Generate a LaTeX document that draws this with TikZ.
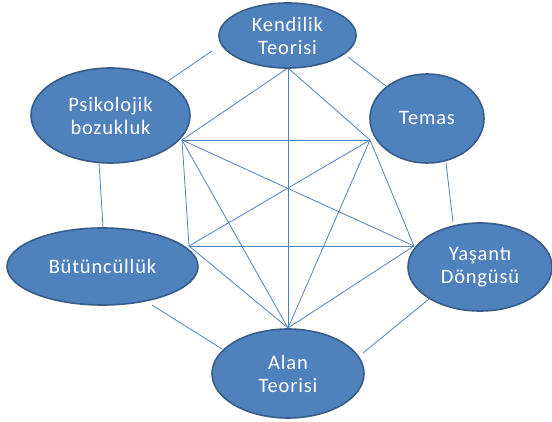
\documentclass[tikz,border=0pt]{standalone}
\usepackage{fontspec}
\setmainfont{Carlito}[LetterSpace=4]
\usetikzlibrary{shapes.geometric}
\definecolor{ovalblue}{HTML}{4F81BD}
\definecolor{ovaledge}{HTML}{385D8A}
\begin{document}
\begin{tikzpicture}[x=1pt,y=-1pt,
  oval/.style={ellipse,draw=ovaledge,line width=1.6pt,fill=ovalblue,text=white,align=center,inner sep=0pt,font=\fontsize{20.5}{23}\selectfont},
  link/.style={draw=ovalblue,line width=0.8pt}]
\useasboundingbox (0,0) rectangle (552,422);
% corners of the inner figure
\coordinate (vk) at (288,68);
\coordinate (vp) at (182,140);
\coordinate (vt) at (370,140);
\coordinate (vb) at (189,246);
\coordinate (vy) at (414,246);
\coordinate (va) at (288,328);
% ends of the outer links
\coordinate (kp1) at (212,51);
\coordinate (kp2) at (168,81);
\coordinate (kt1) at (348,57);
\coordinate (kt2) at (386,86);
\coordinate (ty1) at (446,163);
\coordinate (ty2) at (453,222);
\coordinate (ya1) at (429,299);
\coordinate (ya2) at (363,353);
\coordinate (ab1) at (222,349);
\coordinate (ab2) at (152,305);
\coordinate (bp1) at (103,227);
\coordinate (bp2) at (99,163);
\draw[link] (kp1)--(kp2);
\draw[link] (kt1)--(kt2);
\draw[link] (ty1)--(ty2);
\draw[link] (ya1)--(ya2);
\draw[link] (ab1)--(ab2);
\draw[link] (bp1)--(bp2);
\draw[link] (vk)--(vp);
\draw[link] (vk)--(vt);
\draw[link] (vk)--(va);
\draw[link] (vp)--(vt);
\draw[link] (vp)--(vb);
\draw[link] (vp)--(va);
\draw[link] (vp)--(vy);
\draw[link] (vt)--(vb);
\draw[link] (vt)--(va);
\draw[link] (vt)--(vy);
\draw[link] (vb)--(vy);
\draw[link] (vb)--(va);
\draw[link] (vy)--(va);
\node[oval,minimum width=137,minimum height=65] (kendilik) at (287.5,35.5) {Kendilik\\Teorisi};
\node[oval,minimum width=114,minimum height=89] (temas) at (427,118.5) {Temas};
\node[oval,minimum width=159,minimum height=95] (psikolojik) at (110.5,115.5) {Psikolojik\\bozukluk};
\node[oval,minimum width=191,minimum height=77] (butuncul) at (102.5,266.5) {Bütüncüllük};
\node[oval,minimum width=144,minimum height=88] (yasanti) at (480,267) {Yaşantı\\Döngüsü};
\node[oval,minimum width=152,minimum height=89] (alan) at (288,373.5) {Alan\\Teorisi};
\end{tikzpicture}
\end{document}
